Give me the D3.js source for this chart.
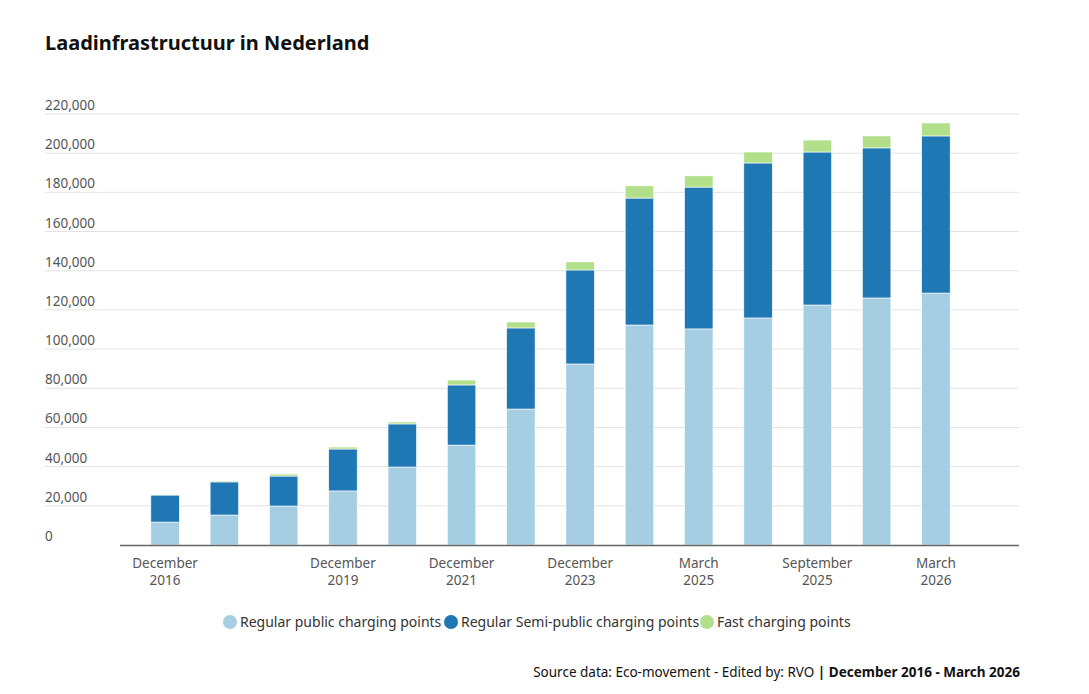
<!DOCTYPE html>
<html><head><meta charset="utf-8">
<script src="https://cdn.jsdelivr.net/npm/d3@7"></script>
<style>body{margin:0;background:#fff;font-family:"Noto Sans",sans-serif;}</style>
</head><body><div id="chart"></div>
<script>
var categories = ["Dec 2016","Dec 2017","Dec 2018","Dec 2019","Dec 2020","Dec 2021","Dec 2022","Dec 2023","Dec 2024","Mar 2025","Jun 2025","Sep 2025","Dec 2025","Mar 2026"];
var tickLabels = {"Dec 2016":["December","2016"],"Dec 2019":["December","2019"],"Dec 2021":["December","2021"],"Dec 2023":["December","2023"],"Mar 2025":["March","2025"],"Sep 2025":["September","2025"],"Mar 2026":["March","2026"]};
var regularPublic = [11700,15300,19900,27600,39800,51000,69400,92400,112300,110300,115900,122500,126100,128600];
var semiPublic = [13800,16900,15300,21400,22000,30700,41400,48000,64800,72400,79100,78100,76600,80200];
var fast = [400,500,1000,1000,1000,2500,3000,4100,6200,5700,5600,6100,6100,6600];
var seriesNames = ["Regular public charging points","Regular Semi-public charging points","Fast charging points"];
var colors = ["#a6cee3","#1f78b4","#b2df8a"];

var svg = d3.select("#chart").append("svg").attr("width",1089).attr("height",694);

svg.append("text").attr("x",45).attr("y",50).attr("font-size",20).attr("font-weight","bold")
  .attr("fill","#111").text("Laadinfrastructuur in Nederland");

var x = d3.scaleBand().domain(categories).range([120,981]).padding(0.52);
var y = d3.scaleLinear().domain([0,220000]).range([545,114]);

// gridlines and labels
y.ticks(11).forEach(function(t){
  if (t > 0) svg.append("line").attr("x1",45).attr("x2",1019).attr("y1",y(t)).attr("y2",y(t))
    .attr("stroke","#e3e3e3");
  svg.append("text").attr("x",45).attr("y",y(t)-4).attr("font-size",13.5).attr("fill","#555")
    .text(d3.format(",")(t));
});

var data = categories.map(function(c,i){ return {cat:c, a:regularPublic[i], b:semiPublic[i], c:fast[i]}; });
var stacked = d3.stack().keys(["a","b","c"])(data);

svg.selectAll("g.layer").data(stacked).enter().append("g").attr("fill",(d,i)=>colors[i])
  .selectAll("rect").data(d=>d).enter().append("rect")
  .attr("x",d=>x(d.data.cat)).attr("width",x.bandwidth())
  .attr("y",d=>y(d[1])).attr("height",d=>y(d[0])-y(d[1]))
  .attr("stroke","#fff").attr("stroke-width",0.6);

svg.append("line").attr("x1",120).attr("x2",1019).attr("y1",545.5).attr("y2",545.5)
  .attr("stroke","#666").attr("stroke-width",1.5);

categories.forEach(function(c){
  if (!tickLabels[c]) return;
  var t = svg.append("text").attr("text-anchor","middle").attr("font-size",13.5).attr("fill","#555");
  tickLabels[c].forEach(function(s,j){
    t.append("tspan").attr("x",x(c)+x.bandwidth()/2).attr("y",568+j*17).text(s);
  });
});

// legend
var lx = [230,451,707];
seriesNames.forEach(function(n,i){
  svg.append("circle").attr("cx",lx[i]).attr("cy",622).attr("r",7).attr("fill",colors[i]);
  svg.append("text").attr("x",lx[i]+10).attr("y",627).attr("font-size",14).attr("fill","#333").text(n);
});

var src = svg.append("text").attr("x",1020).attr("y",677).attr("text-anchor","end").attr("font-size",13.5).attr("fill","#111");
src.append("tspan").text("Source data: Eco-movement - Edited by: RVO ");
src.append("tspan").attr("font-weight","bold").text("| December 2016 - March 2026");
</script></body></html>
